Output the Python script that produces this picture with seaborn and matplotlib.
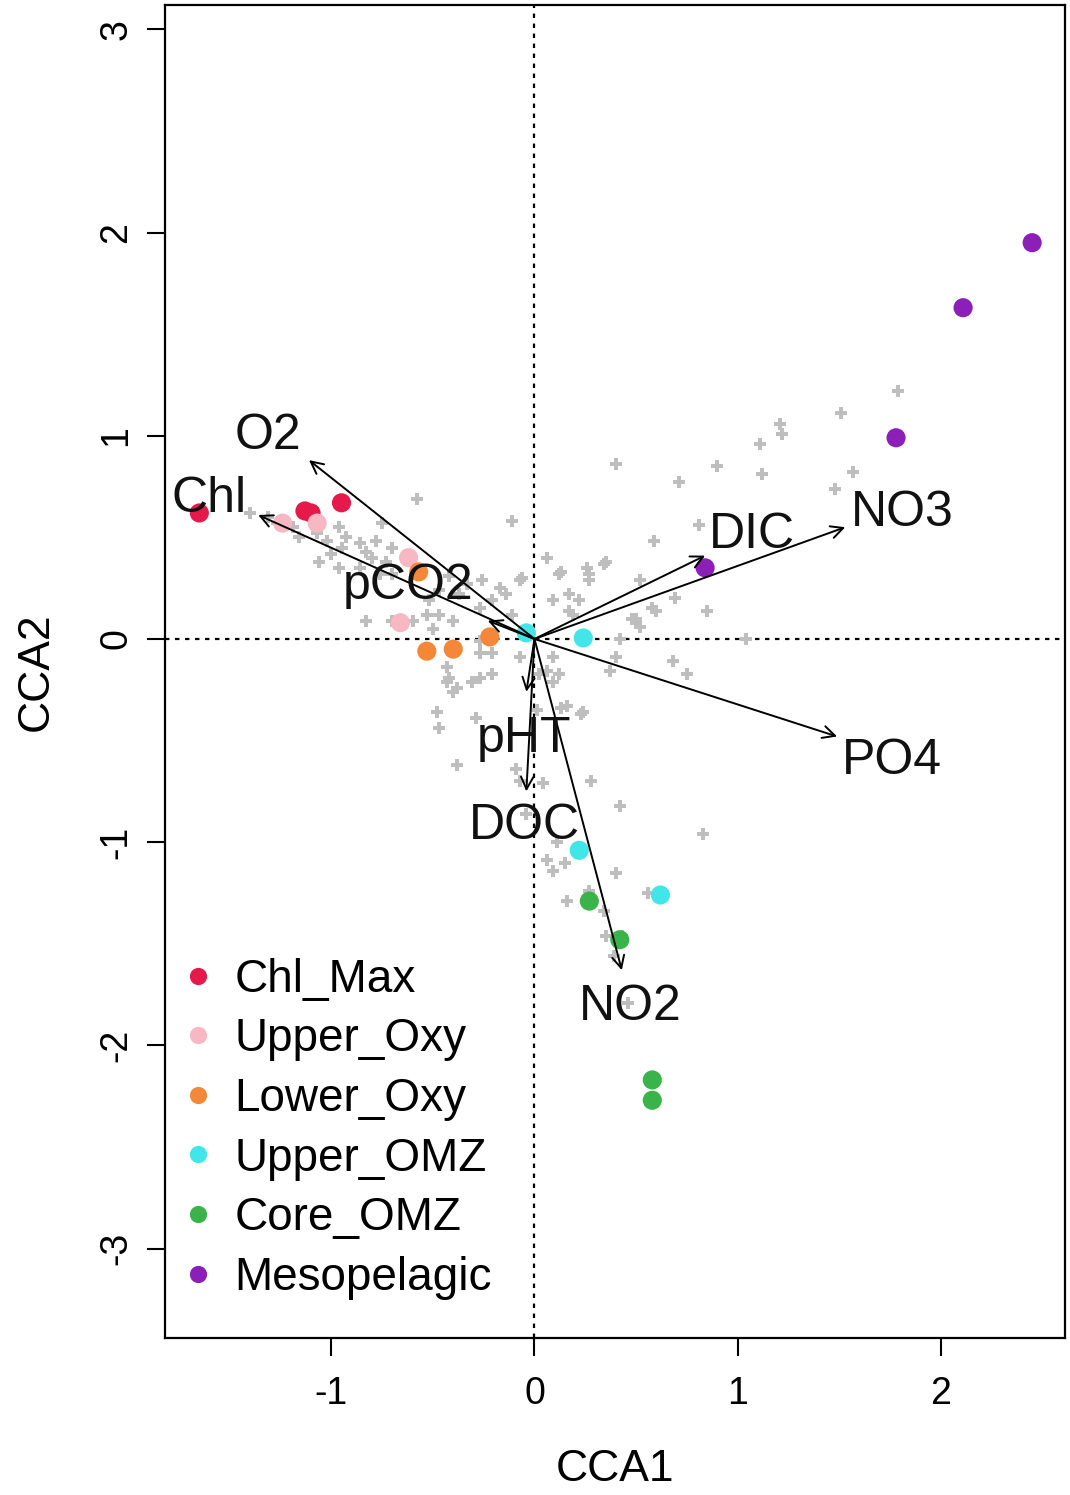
import matplotlib
matplotlib.use("Agg")
import matplotlib.pyplot as plt
import seaborn as sns
import pandas as pd
import numpy as np

# ---------------- data ----------------
groups = ["Chl_Max", "Upper_Oxy", "Lower_Oxy", "Upper_OMZ", "Core_OMZ", "Mesopelagic"]
group_colors = ["#E6194B", "#F7B8C3", "#F58838", "#42E6E8", "#3AB44A", "#8B1FB8"]

site_group = (["Chl_Max"] * 4 + ["Upper_Oxy"] * 4 + ["Lower_Oxy"] * 4 +
              ["Upper_OMZ"] * 4 + ["Core_OMZ"] * 4 + ["Mesopelagic"] * 4)
site_x = [-1.65, -1.13, -1.10, -0.95,
          -1.07, -1.24, -0.62, -0.66,
          -0.57, -0.22, -0.53, -0.40,
          -0.04, 0.24, 0.22, 0.62,
          0.27, 0.42, 0.58, 0.58,
          2.45, 2.11, 1.78, 0.84]
site_y = [0.62, 0.63, 0.62, 0.67,
          0.57, 0.57, 0.40, 0.08,
          0.33, 0.01, -0.06, -0.05,
          0.03, 0.005, -1.04, -1.26,
          -1.29, -1.48, -2.17, -2.27,
          1.95, 1.63, 0.99, 0.35]

species_x = [-0.58, -1.40, -1.31, -1.27, -1.19, -1.16, -1.07, -1.02, -0.96, -0.93,
             -1.06, -1.00, -0.95, -0.86, -0.83, -0.78, -0.75, -0.80, -0.73, -0.70,
             -0.96, -0.86, -0.76, -0.70, -0.83, -0.70, -0.60, -0.53, -0.47, -0.40,
             -0.50, -0.37, -0.33, -0.27, -0.21, -0.17, -0.14, -0.11, -0.11, -0.07,
             0.06, 0.12, 0.09, 0.17, 0.27, 0.26, 0.35, 0.19, -0.27, -0.27,
             -0.21, -0.07, 0.02, 0.12, 0.09, -0.43, -0.43, -0.40, -0.31, -0.21,
             -0.26, -0.42, -0.38, -0.27, -0.48, -0.47, -0.29, -0.38, -0.09, -0.07,
             0.09, 0.06, -0.06, 0.13, 0.01, 0.16, 0.24, 0.04, 0.28, 0.42,
             -0.04, 0.11, 0.06, 0.09, 0.40, 0.16, 0.83, 0.68, 0.75, 0.40,
             0.42, 0.37, 0.85, 0.50, 0.52, 0.60, 0.23, 1.04, 0.40, 0.71,
             0.90, 1.12, 1.11, 1.21, 1.22, 1.51, 1.79, 1.57, 1.48, 0.81,
             0.59, 0.34, 0.27, 0.13, 0.17, 0.22, 0.48, 0.58, 0.69, 0.52,
             0.15, 0.27, 0.34, 0.35, 0.43, 0.39, 0.46, 0.56, -0.42, -0.47,
             -0.52]
species_y = [0.69, 0.62, 0.60, 0.57, 0.55, 0.50, 0.52, 0.48, 0.55, 0.50,
             0.38, 0.42, 0.45, 0.47, 0.43, 0.48, 0.57, 0.40, 0.38, 0.45,
             0.35, 0.35, 0.32, 0.32, 0.09, 0.09, 0.09, 0.12, 0.12, 0.09,
             0.05, 0.22, 0.27, 0.15, 0.19, 0.25, 0.22, 0.12, 0.58, 0.29,
             0.40, 0.32, 0.19, 0.22, 0.32, 0.35, 0.38, 0.12, -0.01, -0.07,
             -0.07, -0.09, -0.17, -0.17, -0.09, -0.14, -0.21, -0.26, -0.21, -0.17,
             0.29, -0.19, -0.24, -0.19, -0.36, -0.44, -0.39, -0.62, -0.64, -0.70,
             -0.21, -0.16, 0.30, -0.34, -0.35, -0.33, -0.36, -0.71, -0.70, -0.82,
             -0.86, -1.00, -1.09, -1.14, -1.15, -1.29, -0.96, -0.11, -0.17, -0.09,
             0.00, -0.16, 0.14, 0.10, 0.06, 0.14, -0.37, 0.00, 0.86, 0.77,
             0.85, 0.81, 0.96, 1.06, 1.01, 1.11, 1.22, 0.82, 0.74, 0.56,
             0.48, 0.37, 0.29, 0.33, 0.14, 0.19, 0.10, 0.15, 0.20, 0.29,
             -1.10, -1.24, -1.34, -1.46, -1.46, -1.56, -1.79, -1.25, 0.31, 0.24,
             0.19]

env_names = ["O2", "Chl", "pCO2", "DIC", "NO3", "PO4", "pHT", "DOC", "NO2"]
env_x = [-1.11, -1.36, -0.23, 0.84, 1.53, 1.49, -0.04, -0.04, 0.43]
env_y = [0.88, 0.61, 0.09, 0.41, 0.55, -0.48, -0.26, -0.75, -1.63]
env_label_x = [-1.31, -1.60, -0.62, 1.07, 1.81, 1.76, -0.05, -0.05, 0.47]
env_label_y = [1.00, 0.69, 0.26, 0.51, 0.62, -0.60, -0.49, -0.92, -1.81]

x_ticks = [-1, 0, 1, 2]
y_ticks = [-3, -2, -1, 0, 1, 2, 3]

# ---------------- plot ----------------
sns.set_style("ticks")
plt.rcParams["font.family"] = ["Liberation Sans", "DejaVu Sans"]
plt.rcParams["text.color"] = "black"
plt.rcParams["axes.labelcolor"] = "black"
plt.rcParams["xtick.color"] = "black"
plt.rcParams["ytick.color"] = "black"

fig = plt.figure(figsize=(10.70, 14.95), dpi=100)
ax = fig.add_axes([0.154, 0.105, 0.841, 0.8917])

sites = pd.DataFrame({"CCA1": site_x, "CCA2": site_y,
                      "group": pd.Categorical(site_group, categories=groups)})
species = pd.DataFrame({"CCA1": species_x, "CCA2": species_y})

ax.axvline(0, color="black", ls=(0, (2, 2.5)), lw=1.6, zorder=1)
ax.axhline(0, color="black", ls=(0, (2, 2.5)), lw=1.6, zorder=1)

sns.scatterplot(data=species, x="CCA1", y="CCA2", ax=ax, marker="P",
                color="#BEBEBE", s=75, linewidth=0, zorder=2, legend=False)

sns.scatterplot(data=sites, x="CCA1", y="CCA2", hue="group",
                palette=dict(zip(groups, group_colors)), hue_order=groups,
                s=190, linewidth=0, ax=ax, zorder=3, legend=True)

for name, hx, hy, lx, ly in zip(env_names, env_x, env_y, env_label_x, env_label_y):
    ax.annotate("", xy=(hx, hy), xytext=(0, 0),
                arrowprops=dict(arrowstyle="->", color="black", lw=1.4,
                                mutation_scale=22, shrinkA=0, shrinkB=0),
                zorder=4)
    ax.text(lx, ly, name, fontsize=36, ha="center", va="center",
            color="#111111", zorder=5)

ax.set_xlim(-1.82, 2.61)
ax.set_ylim(-3.44, 3.12)
ax.set_xticks(x_ticks)
ax.set_yticks(y_ticks)
ax.set_xticklabels([str(t) for t in x_ticks], fontsize=27)
ax.set_yticklabels([str(t) for t in y_ticks], fontsize=27, rotation=90, va="center")
ax.tick_params(axis="both", direction="out", length=13, width=1.5, color="black")
ax.tick_params(axis="x", pad=14)
ax.tick_params(axis="y", pad=9)
for sp in ax.spines.values():
    sp.set_visible(True)
    sp.set_linewidth(1.6)
    sp.set_color("black")

ax.set_xlabel("CCA1", fontsize=32, labelpad=27)
ax.set_ylabel("CCA2", fontsize=32, labelpad=30)

handles, labels = ax.get_legend_handles_labels()
ax.legend(handles=handles, labels=labels, loc="upper left",
          bbox_to_anchor=(-0.004, 0.299), frameon=False, fontsize=33,
          markerscale=0.9, handletextpad=0.4, labelspacing=0.34,
          borderaxespad=0.0, handlelength=0.8)

fig.savefig("out.png", dpi=100)
